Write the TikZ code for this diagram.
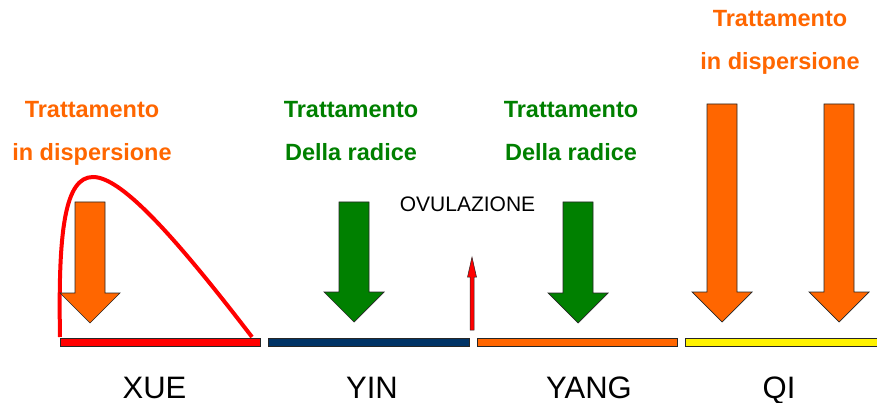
\documentclass[tikz,border=0pt]{standalone}
\usepackage{fontspec}
\setmainfont{Liberation Sans}
\usepackage{tikz}
\definecolor{ptorange}{HTML}{FF6600}
\definecolor{ptgreen}{HTML}{008000}
\definecolor{ptnavy}{HTML}{003366}

\begin{document}
\begin{tikzpicture}[x=1pt,y=-1pt,
    bar/.style={draw=black!85,line width=0.7pt},
    outl/.style={draw=black!85,line width=0.7pt},
    lab/.style={font=\fontsize{23.5}{28}\selectfont\bfseries,anchor=base,inner sep=0pt},
    phase/.style={font=\fontsize{31}{36}\selectfont,anchor=base,inner sep=0pt},
    pics/downarr/.style 2 args={code={
        \draw[outl,fill=#1] (-15,0) -- (15,0) -- (15,#2) -- (30,#2) -- (0,#2+30)
            -- (-30,#2) -- (-15,#2) -- cycle;}}]
    \useasboundingbox (0,0) rectangle (877,403);
    % phases
    \draw[bar,fill=red] (60,338) rectangle (260,346);
    \draw[bar,fill=ptnavy] (268,338) rectangle (469,346);
    \draw[bar,fill=ptorange] (477,338) rectangle (677,346);
    \draw[bar,fill=yellow] (685,338) rectangle (890,346);
    \node[phase] (xue) at (154.5,398) {XUE};
    \node[phase] (yin) at (372,398) {YIN};
    \node[phase] (yang) at (589,398) {YANG};
    \node[phase] (qi) at (779,398) {QI};
    % curve over XUE
    \draw[red,line width=4pt] (60,337) .. controls (58,230) and (65,177) .. (93,177)
        .. controls (120,177) and (170,230) .. (252,337);
    % treatments
    \pic at (90,202) {downarr={ptorange}{91}};
    \pic at (354,202) {downarr={ptgreen}{90}};
    \pic at (578,202) {downarr={ptgreen}{91}};
    \pic at (722,104) {downarr={ptorange}{188}};
    \pic at (839,104) {downarr={ptorange}{188}};
    \node[lab,ptorange] (xue-t1) at (92,118) {Trattamento};
    \node[lab,ptorange] (xue-t2) at (92,161) {in dispersione};
    \node[lab,ptgreen] (yin-t1) at (351,118) {Trattamento};
    \node[lab,ptgreen] (yin-t2) at (351,161) {Della radice};
    \node[lab,ptgreen] (yang-t1) at (571,118) {Trattamento};
    \node[lab,ptgreen] (yang-t2) at (571,161) {Della radice};
    \node[lab,ptorange] (qi-t1) at (780,27) {Trattamento};
    \node[lab,ptorange] (qi-t2) at (780,70) {in dispersione};
    % ovulation
    \node[font=\fontsize{21}{25}\selectfont,anchor=base,inner sep=0pt] (ovu) at (467.5,212) {OVULAZIONE};
    \draw[outl,line width=0.5pt,fill=red] (470,330) -- (474,330) -- (474,277) -- (476.5,277)
        -- (472,257) -- (467.5,277) -- (470,277) -- cycle;
\end{tikzpicture}
\end{document}
